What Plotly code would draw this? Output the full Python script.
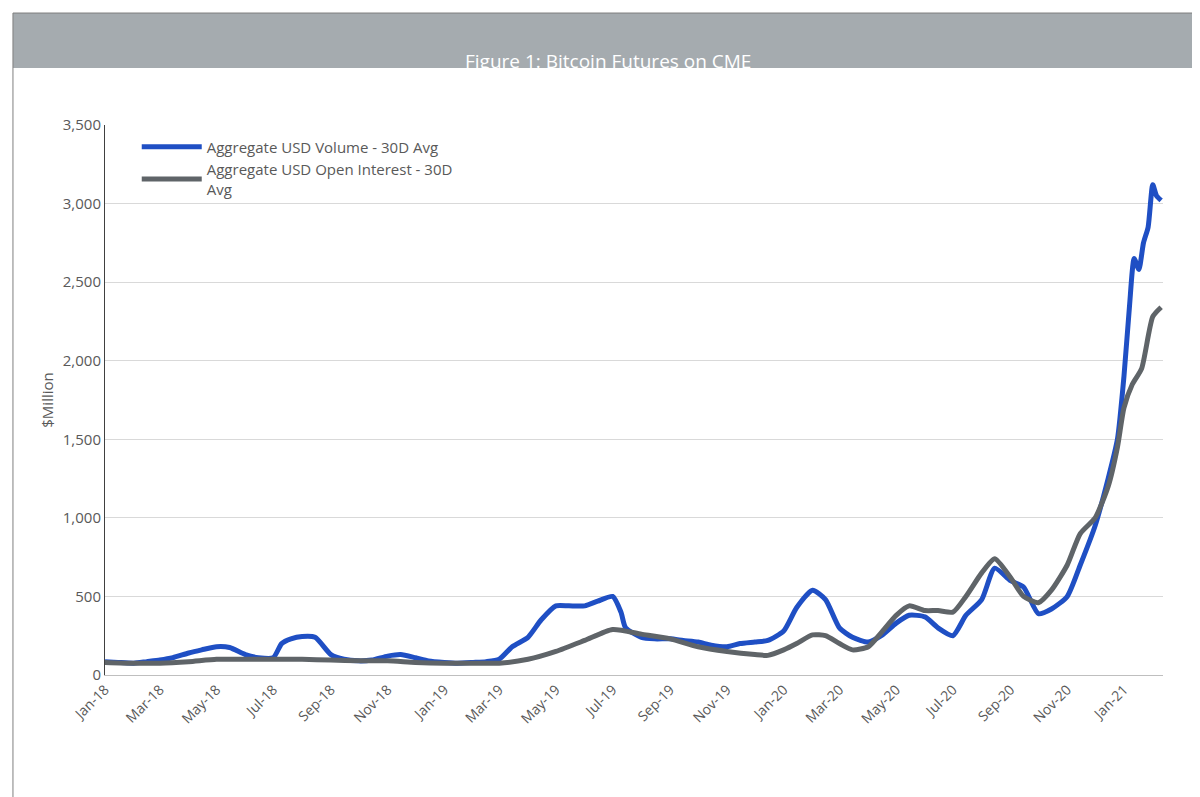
import plotly.graph_objects as go

vol_dates = ["2018-01-01","2018-01-15","2018-02-01","2018-02-15","2018-03-01","2018-03-15","2018-04-01","2018-04-15",
    "2018-05-01","2018-05-15","2018-06-01","2018-06-15","2018-07-01","2018-07-10","2018-07-20","2018-08-01","2018-08-15",
    "2018-09-01","2018-09-15","2018-10-01","2018-10-15","2018-11-01","2018-11-15","2018-12-01","2018-12-15",
    "2019-01-01","2019-01-15","2019-02-01","2019-02-15","2019-03-01","2019-03-15","2019-04-01","2019-04-15",
    "2019-05-01","2019-05-15","2019-06-01","2019-06-15","2019-07-01","2019-07-10","2019-07-15","2019-08-01","2019-08-15",
    "2019-09-01","2019-09-15","2019-10-01","2019-10-15","2019-11-01","2019-11-15","2019-12-01","2019-12-15",
    "2020-01-01","2020-01-15","2020-02-01","2020-02-15","2020-03-01","2020-03-15","2020-04-01","2020-04-15",
    "2020-05-01","2020-05-15","2020-06-01","2020-06-15","2020-07-01","2020-07-15","2020-08-01","2020-08-15",
    "2020-09-01","2020-09-15","2020-10-01","2020-10-15","2020-11-01","2020-11-15","2020-12-01","2020-12-15",
    "2020-12-25","2021-01-01","2021-01-07","2021-01-12","2021-01-17","2021-01-22","2021-01-27","2021-02-01","2021-02-05","2021-02-10"]
vol_values = [85,80,75,85,95,110,140,160,180,175,130,110,110,200,230,245,240,130,100,90,95,120,130,110,90,
    80,75,80,85,100,180,240,350,440,440,440,470,500,400,300,240,230,230,220,210,190,180,200,210,220,
    280,430,540,480,300,240,210,250,330,380,370,300,250,380,480,680,600,560,390,420,500,700,950,1250,
    1500,1900,2350,2650,2580,2750,2850,3120,3050,3020]

oi_dates = ["2018-01-01","2018-02-01","2018-03-01","2018-04-01","2018-05-01","2018-06-01","2018-07-01","2018-08-01",
    "2018-09-01","2018-10-01","2018-11-01","2018-12-01","2019-01-01","2019-02-01","2019-03-01","2019-04-01",
    "2019-05-01","2019-06-01","2019-07-01","2019-08-01","2019-09-01","2019-10-01","2019-11-01","2019-12-01","2019-12-15",
    "2020-01-01","2020-01-15","2020-02-01","2020-02-15","2020-03-01","2020-03-15","2020-04-01","2020-04-15",
    "2020-05-01","2020-05-15","2020-06-01","2020-06-15","2020-07-01","2020-07-15","2020-08-01","2020-08-15",
    "2020-09-01","2020-09-15","2020-10-01","2020-10-15","2020-11-01","2020-11-15","2020-12-01","2020-12-15",
    "2020-12-25","2021-01-01","2021-01-10","2021-01-20","2021-02-01","2021-02-10"]
oi_values = [80,75,75,85,100,100,100,100,95,90,90,80,75,75,75,100,150,220,290,260,230,180,150,130,125,
    160,200,255,250,200,160,180,270,380,440,410,410,400,500,650,740,620,500,460,540,700,900,1000,1200,
    1450,1700,1850,1950,2280,2340]

fig = go.Figure()
fig.add_trace(go.Scatter(x=vol_dates, y=vol_values, mode="lines", name="Aggregate USD Volume - 30D Avg",
    line=dict(color="#1f4fc4", width=5, shape="spline", smoothing=0.6)))
fig.add_trace(go.Scatter(x=oi_dates, y=oi_values, mode="lines", name="Aggregate USD Open Interest - 30D<br>Avg",
    line=dict(color="#5f6468", width=5, shape="spline", smoothing=0.6)))

# title bar and outer frame (paper coords: plot area is 1058 x 550 px)
fig.add_shape(type="rect", xref="paper", yref="paper", x0=-0.087, x1=1.033, y0=1.1036, y1=1.2036,
    fillcolor="#a5abaf", line_width=0, layer="below")
fig.add_shape(type="rect", xref="paper", yref="paper", x0=-0.087, x1=1.033, y0=-0.2236, y1=1.2036,
    line=dict(color="#7f7f7f", width=1))
fig.add_annotation(text="Figure 1: Bitcoin Futures on CME", xref="paper", yref="paper", x=0.475, y=1.1436,
    showarrow=False, font=dict(color="white", size=19, family="Open Sans"))

fig.update_xaxes(type="date", range=["2018-01-01", "2021-02-12"], dtick="M2", tick0="2018-01-01",
    tickformat="%b-%y", tickangle=-45, showgrid=False, showline=True, linecolor="#bfbfbf",
    tickfont=dict(color="#595959", size=14), ticks="")
fig.update_yaxes(range=[0, 3500], dtick=500, tickformat=",", gridcolor="#d9d9d9", showline=True,
    linecolor="#404040", zeroline=False, title=dict(text="$Million", font=dict(color="#595959", size=15), standoff=5),
    tickfont=dict(color="#595959", size=15))
fig.update_layout(width=1200, height=797, margin=dict(l=97, r=45, t=117, b=130, autoexpand=False),
    paper_bgcolor="white", plot_bgcolor="white", font=dict(family="Open Sans"),
    legend=dict(x=0.03, y=0.99, xanchor="left", yanchor="top", bgcolor="rgba(0,0,0,0)",
        font=dict(color="#595959", size=15), tracegroupgap=30, itemwidth=60))
fig.write_html("out.html")
